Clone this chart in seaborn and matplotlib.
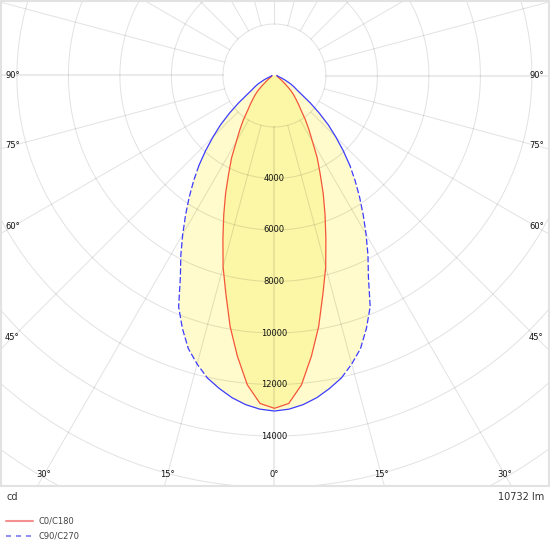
import numpy as np
import pandas as pd
import matplotlib
matplotlib.use("Agg")
import matplotlib.pyplot as plt
from matplotlib.patches import Rectangle
from matplotlib.lines import Line2D
import seaborn as sns

# ---- data (every 2.5 degrees, symmetric) ----
gamma_deg = [0, 2.5, 5, 7.5, 10, 12.5, 15, 17.5, 20, 22.5, 25, 27.5, 30, 32.5, 35, 37.5,
             40, 42.5, 45, 47.5, 50, 52.5, 55, 57.5, 60, 62.5, 65, 67.5, 70, 72.5, 75,
             77.5, 80, 82.5, 85, 87.5, 90]
c0_c180_cd = [12925, 12750, 12060, 11000, 9900, 8700, 7700, 6650, 5750, 4950, 4200, 3600,
              2950, 2500, 2100, 1700, 1450, 1230, 1050, 860, 650, 480, 380, 300, 230, 190,
              160, 145, 130, 120, 110, 105, 100, 100, 100, 100, 100]
c90_c270_cd = [13030, 12970, 12830, 12620, 12340, 12030, 11600, 11120, 10450, 9720, 8640,
               7870, 7120, 6420, 5770, 5150, 4560, 3950, 3370, 2840, 2280, 1770, 1310, 1030,
               875, 720, 540, 420, 310, 220, 170, 140, 120, 110, 100, 100, 100]
series_names = ["C0/C180", "C90/C270"]
ring_values = [2000, 4000, 6000, 8000, 10000, 12000, 14000, 16000, 18000, 20000]
ring_labels = [4000, 6000, 8000, 10000, 12000, 14000]
side_angle_labels = [90, 75, 60, 45]
bottom_angle_labels = [30, 15, 0]
unit_text = "cd"
flux_text = "10732 lm"

# ---- styling ----
sns.set_style("white")
plt.rcParams["font.family"] = ["DejaVu Sans"]

W = H = 550
cx, cy = 274.4, 75.5          # pole position (pixels from top-left)
px_per_cd = 51.5 / 2000.0
RMAX = 20000
R = RMAX * px_per_cd

fig = plt.figure(figsize=(5.5, 5.5), dpi=100)
fig.patch.set_facecolor("white")
ax = fig.add_axes([(cx - R) / W, (H - cy - R) / H, 2 * R / W, 2 * R / H], projection="polar")
ax.set_theta_zero_location("S")
ax.set_ylim(0, RMAX)
ax.set_xticks([])
ax.set_yticks([])
ax.grid(False)
ax.spines["polar"].set_visible(False)
ax.patch.set_visible(False)

clip = Rectangle((1 / W, (H - 486) / H), 547.5 / W, 485 / H, transform=fig.transFigure)


def full_curve(vals):
    g = np.array(gamma_deg, dtype=float)
    v = np.array(vals, dtype=float)
    th = np.radians(np.concatenate([-g[::-1], g[1:]]))
    rr = np.concatenate([v[::-1], v[1:]])
    return th, rr


th0, r0 = full_curve(c0_c180_cd)
th90, r90 = full_curve(c90_c270_cd)
df = pd.concat([
    pd.DataFrame({"theta": th90, "cd": r90, "series": series_names[1]}),
    pd.DataFrame({"theta": th0, "cd": r0, "series": series_names[0]}),
])

# fills
p = ax.fill(th90, r90, color="#fffbcc", zorder=1, lw=0)
p += ax.fill(th0, r0, color="#fcf7a6", zorder=1.1, lw=0)
for a in p:
    a.set_clip_path(clip)

# grid (on top of fills)
gcol = (0, 0, 0, 0.11)
tt = np.linspace(0, 2 * np.pi, 721)
for rv in ring_values:
    ln, = ax.plot(tt, np.full_like(tt, rv), color=gcol, lw=0.75, zorder=2)
    ln.set_clip_path(clip)
for a in range(0, 360, 15):
    main = a in (0, 90, 270)
    ln, = ax.plot([np.radians(a)] * 2, [2000, RMAX],
                  color=(0, 0, 0, 0.08 if main else 0.11),
                  lw=1.5 if main else 0.75, zorder=2)
    ln.set_clip_path(clip)

# curves
sub0 = df[df.series == series_names[0]]
sns.lineplot(data=sub0, x="theta", y="cd", ax=ax, sort=False, estimator=None,
             color="#f5553a", linewidth=0.9, legend=False, zorder=3)
sub90 = df[df.series == series_names[1]].reset_index(drop=True)
gabs = np.abs(np.degrees(sub90["theta"].values))
n = len(sub90)
merged = []
for i in range(1, n):
    d = 12.5 <= gabs[i - 1] <= 40 and 12.5 <= gabs[i] <= 40
    if merged and merged[-1][2] == d:
        merged[-1] = (merged[-1][0], i, d)
    else:
        merged.append((i - 1, i, d))
for s, e, d in merged:
    seg = sub90.iloc[s:e + 1]
    sns.lineplot(data=seg, x="theta", y="cd", ax=ax, sort=False, estimator=None,
                 color="#3c3cff", linewidth=0.9, legend=False, zorder=3.1,
                 linestyle=(0, (5, 2)) if d else "-")
for ln in ax.lines:
    ln.set_clip_path(clip)
ax.set_xlabel("")
ax.set_ylabel("")
ax.set_xticks([])
ax.set_yticks([])

# intensity labels
for v in ring_labels:
    ax.text(0, v, f"{v}", ha="center", va="center", fontsize=6, color="#111", zorder=4)

# angle labels
col_dx = 262.0
row_dy = 399.0
for g in side_angle_labels:
    rcd = col_dx / np.sin(np.radians(g)) / px_per_cd
    for sgn in (-1, 1):
        ax.text(np.radians(sgn * g), rcd, f"{g}°", ha="center", va="center",
                fontsize=6, color="#111", zorder=4)
for g in bottom_angle_labels:
    rcd = row_dy / np.cos(np.radians(g)) / px_per_cd
    for sgn in ((1,) if g == 0 else (-1, 1)):
        ax.text(np.radians(sgn * g), rcd, f"{g}°", ha="center", va="center",
                fontsize=6, color="#111", zorder=4)

# frame
fig.patches.append(Rectangle((1 / W, (H - 486) / H), 547.5 / W, 485 / H,
                             transform=fig.transFigure, fill=False,
                             edgecolor="#e2e2e2", lw=1.5))

fig.text(6.5 / W, 1 - 497.5 / H, unit_text, fontsize=7, va="center", ha="left", color="#333")
fig.text(544.5 / W, 1 - 497.5 / H, flux_text, fontsize=7, va="center", ha="right", color="#333")

handles = [Line2D([], [], color="#f59090", lw=1.5),
           Line2D([], [], color="#9090f5", lw=1.5, linestyle=(0, (2.4, 2.4)))]
fig.legend(handles, series_names, loc="upper left",
           bbox_to_anchor=(6 / W, 1 - 516.5 / H), frameon=False, fontsize=6,
           handlelength=3.25, handletextpad=0.7, labelspacing=0.75,
           borderpad=0, borderaxespad=0, labelcolor="#444")

fig.savefig("out.png", dpi=100, facecolor="white")
